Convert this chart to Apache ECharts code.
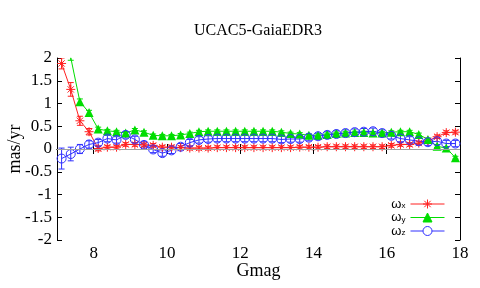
<!DOCTYPE html>
<html><head><meta charset="utf-8">
<script src="https://cdn.jsdelivr.net/npm/echarts@6/dist/echarts.min.js"></script>
<style>html,body{margin:0;padding:0;background:#fff}#c{width:480px;height:288px}</style>
</head><body><div id="c"></div>
<script>
const mags = [7.125,7.375,7.625,7.875,8.125,8.375,8.625,8.875,9.125,9.375,9.625,9.875,10.125,10.375,10.625,10.875,11.125,11.375,11.625,11.875,12.125,12.375,12.625,12.875,13.125,13.375,13.625,13.875,14.125,14.375,14.625,14.875,15.125,15.375,15.625,15.875,16.125,16.375,16.625,16.875,17.125,17.375,17.625,17.875];
const wx = [1.88,1.31,0.62,0.38,0.01,0.04,0.04,0.10,0.10,0.09,0.08,0.04,0.04,0.03,0.02,0.02,0.02,0.03,0.03,0.03,0.03,0.03,0.03,0.03,0.03,0.03,0.04,0.04,0.04,0.05,0.05,0.05,0.05,0.05,0.05,0.05,0.08,0.10,0.10,0.13,0.18,0.27,0.36,0.37];
const wy = [null,2.01,1.04,0.80,0.44,0.40,0.38,0.35,0.42,0.37,0.30,0.29,0.29,0.31,0.34,0.38,0.39,0.39,0.39,0.39,0.39,0.39,0.39,0.39,0.37,0.34,0.33,0.30,0.30,0.32,0.34,0.35,0.36,0.36,0.35,0.35,0.37,0.38,0.38,0.32,0.21,0.06,0.02,-0.19];
const wz = [-0.21,-0.11,0.00,0.10,0.14,0.23,0.20,0.31,0.21,0.09,-0.01,-0.09,-0.03,0.05,0.14,0.20,0.22,0.23,0.23,0.23,0.23,0.23,0.23,0.23,0.21,0.22,0.22,0.25,0.28,0.31,0.33,0.35,0.37,0.38,0.39,0.35,0.29,0.23,0.20,0.17,0.15,0.17,0.12,0.12];
const ex = [0.12,0.15,0.10,0.07,0.05,0.04,0.04,0.04,0.04,0.04,0.04,0.04,0.04,0.04,0.04,0.04,0.04,0.04,0.04,0.04,0.04,0.04,0.04,0.04,0.04,0.04,0.04,0.04,0.04,0.04,0.04,0.04,0.04,0.04,0.04,0.04,0.04,0.04,0.04,0.04,0.04,0.04,0.04,0.04];
const ey = [0,0.06,0.06,0.05,0.04,0.03,0.03,0.03,0.03,0.03,0.03,0.03,0.03,0.03,0.03,0.03,0.03,0.03,0.03,0.03,0.03,0.03,0.03,0.03,0.03,0.03,0.03,0.03,0.03,0.03,0.03,0.03,0.03,0.03,0.03,0.03,0.03,0.03,0.03,0.03,0.03,0.03,0.03,0.03];
const ez = [0.23,0.15,0.10,0.08,0.07,0.07,0.07,0.07,0.07,0.07,0.07,0.07,0.07,0.07,0.07,0.07,0.07,0.07,0.07,0.07,0.07,0.07,0.07,0.07,0.07,0.07,0.07,0.07,0.07,0.07,0.07,0.07,0.07,0.07,0.07,0.07,0.07,0.07,0.07,0.07,0.07,0.07,0.07,0.07];
const xTicks = [8,10,12,14,16,18];
const names = ['ωx','ωy','ωz'];
const colors = ['#ff2020','#00dd00','#3030ff'];

const serif = 'Liberation Serif';
const asterisk = 'path://M0,-5L0,5M-5,0L5,0M-3.5,-3.5L3.5,3.5M-3.5,3.5L3.5,-3.5';
const legIcons = [
  'path://M-17,0L17,0M0,-4.5L0,4.5M-4.5,0L4.5,0M-3.2,-3.2L3.2,3.2M-3.2,3.2L3.2,-3.2',
  'path://M-17,0L17,0M0,-4.5L4.5,4.5L-4.5,4.5Z',
  'path://M-17,0L-4.5,0M4.5,0L17,0M4.5,0A4.5,4.5,0,1,1,-4.5,0A4.5,4.5,0,1,1,4.5,0'
];

function pts(v){ return mags.map((m,i)=>[m, v[i]]); }
function errData(v,e){ return mags.map((m,i)=>[m, v[i], e[i]]).filter(d=>d[1]!==null); }
function errSeries(v,e,color){
  return {
    type:'custom', silent:true, clip:true, z:3,
    data: errData(v,e),
    renderItem(params, api){
      const x=api.value(0), y=api.value(1), er=api.value(2);
      const p1=api.coord([x,y-er]), p2=api.coord([x,y+er]);
      const st={stroke:color,lineWidth:1};
      return {type:'group',children:[
        {type:'line',shape:{x1:p1[0],y1:p1[1],x2:p2[0],y2:p2[1]},style:st},
        {type:'line',shape:{x1:p1[0]-3,y1:p1[1],x2:p1[0]+3,y2:p1[1]},style:st},
        {type:'line',shape:{x1:p2[0]-3,y1:p2[1],x2:p2[0]+3,y2:p2[1]},style:st}
      ]};
    }
  };
}

const chart = echarts.init(document.getElementById('c'));
const axLine = {show:true, lineStyle:{color:'#000', width:1}};
chart.setOption({
  animation:false,
  backgroundColor:'#fff',
  textStyle:{fontFamily:serif},
  grid:{left:57, right:20, top:58, bottom:48, containLabel:false, outerBoundsMode:'none'},
  graphic:[{type:'text', x:258, y:31, style:{text:'UCAC5-GaiaEDR3', fontFamily:serif, fontSize:16, fill:'#000', align:'center', verticalAlign:'middle'}}],
  legend:{
    data:[
      {name:names[0], icon:legIcons[0], itemStyle:{color:'none', borderColor:colors[0], borderWidth:1}},
      {name:names[1], icon:legIcons[1], itemStyle:{color:colors[1], borderColor:colors[1], borderWidth:1}},
      {name:names[2], icon:legIcons[2], itemStyle:{color:'none', borderColor:colors[2], borderWidth:1}}
    ],
    orient:'vertical', right:33, top:197, align:'right', padding:0,
    itemWidth:34, itemHeight:9, itemGap:0, selectedMode:false,
    formatter: n => '{a|ω}{b|' + n.slice(1) + '}',
    textStyle:{color:'#000', rich:{
      a:{fontSize:13, lineHeight:10, fontFamily:'Liberation Sans'},
      b:{fontSize:8, lineHeight:6, fontFamily:'Liberation Sans', padding:[4,0,0,0]}}}
  },
  xAxis:[{
    type:'value', min:7, max:18, position:'bottom',
    name:'Gmag', nameLocation:'middle', nameGap:22, nameMoveOverlap:false,
    nameTextStyle:{fontFamily:serif, fontSize:18, color:'#000'},
    axisLine:axLine,
    axisTick:{show:true, inside:true, length:5, customValues:xTicks, lineStyle:{color:'#000'}},
    axisLabel:{customValues:xTicks, fontFamily:serif, fontSize:17, color:'#000', margin:5},
    splitLine:{show:false}
  },{
    type:'value', min:7, max:18, position:'top',
    axisLine:axLine,
    axisTick:{show:true, inside:true, length:5, customValues:xTicks, lineStyle:{color:'#000'}},
    axisLabel:{show:false}, splitLine:{show:false}
  }],
  yAxis:[{
    type:'value', min:-2, max:2, interval:0.5, position:'left',
    name:'mas/yr', nameLocation:'middle', nameGap:33, nameRotate:90, nameMoveOverlap:false,
    nameTextStyle:{fontFamily:serif, fontSize:18, color:'#000'},
    axisLine:axLine,
    axisTick:{show:true, inside:true, length:5, lineStyle:{color:'#000'}},
    axisLabel:{fontFamily:serif, fontSize:17, color:'#000', margin:5},
    splitLine:{show:false}
  },{
    type:'value', min:-2, max:2, interval:0.5, position:'right',
    axisLine:axLine,
    axisTick:{show:true, inside:true, length:5, lineStyle:{color:'#000'}},
    axisLabel:{show:false}, splitLine:{show:false}
  }],
  series:[
    {name:names[0], type:'line', data:pts(wx), symbol:asterisk, symbolSize:9, z:4,
     lineStyle:{color:colors[0], width:1}, itemStyle:{color:'none', borderColor:colors[0], borderWidth:1},
     markLine:{silent:true, symbol:'none', label:{show:false}, lineStyle:{color:'#a0a0a0', width:1, type:'solid'}, data:[{yAxis:0}]}},
    {name:names[1], type:'line', data:pts(wy), symbol:'triangle', symbolSize:9, z:4, connectNulls:false,
     lineStyle:{color:colors[1], width:1}, itemStyle:{color:colors[1], borderWidth:0}},
    {name:names[2], type:'line', data:pts(wz), symbol:'circle', symbolSize:9, z:4,
     lineStyle:{color:colors[2], width:1}, itemStyle:{color:'none', borderColor:colors[2], borderWidth:1}},
    errSeries(wx,ex,colors[0]),
    errSeries(wy,ey,colors[1]),
    errSeries(wz,ez,colors[2])
  ]
});
</script></body></html>
